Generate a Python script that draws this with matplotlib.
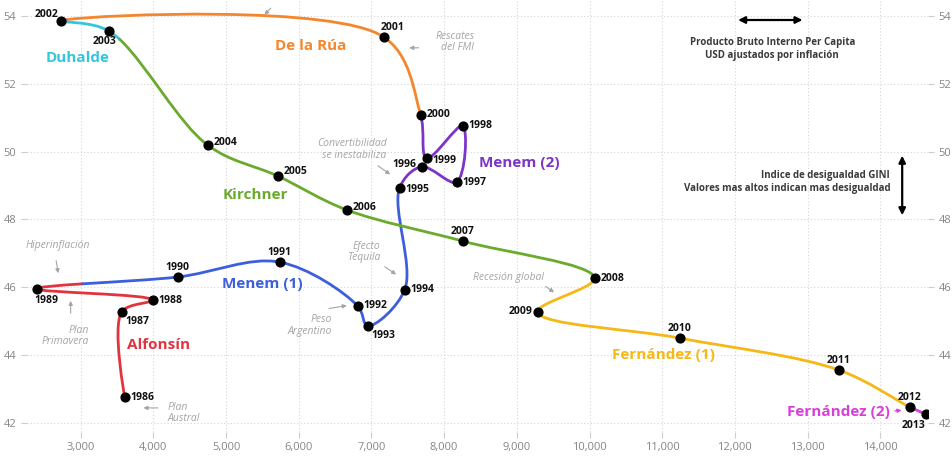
import numpy as np
import matplotlib.pyplot as plt
from matplotlib.path import Path
from matplotlib.patches import PathPatch

plt.rcParams['font.family'] = ['Open Sans', 'DejaVu Sans']

# Data: Argentina, GDP per capita (USD, inflation adjusted) vs GINI index
years = list(range(1986, 2014))
gdp = [3605, 3564, 3990, 2395, 4334, 5737, 6810, 6948, 7457, 7388,
       7690, 8172, 8254, 7760, 7677, 7168, 2725, 3385, 4747, 5710,
       6659, 8254, 10070, 9286, 11239, 13427, 14403, 14623]
gini = [42.76, 45.27, 45.62, 45.95, 46.30, 46.74, 45.45, 44.86, 45.92, 48.93,
        49.55, 49.10, 50.76, 49.81, 51.08, 53.38, 53.85, 53.56, 50.19, 49.28,
        48.28, 47.36, 46.27, 45.27, 44.50, 43.56, 42.47, 42.26]

RED = '#e2343f'
BLUE = '#3d5fdc'
PURPLE = '#7d35c8'
ORANGE = '#f5862c'
CYAN = '#34c6dd'
GREEN = '#6aab2e'
YELLOW = '#f6b816'
MAGENTA = '#d83fd8'

# colour of each segment (year i -> year i+1); tuples split the segment
seg_colors = [RED, RED, RED, (RED, BLUE, 0.45), BLUE, BLUE, BLUE, BLUE, BLUE,
              PURPLE, PURPLE, PURPLE, PURPLE, PURPLE, ORANGE, (ORANGE, MAGENTA, 0.92),
              CYAN, (CYAN, GREEN, 0.12), GREEN, GREEN, GREEN, GREEN,
              YELLOW, YELLOW, YELLOW, YELLOW, MAGENTA]

presidents = ['Duhalde', 'De la Rúa', 'Menem (2)', 'Kirchner', 'Menem (1)',
              'Alfonsín', 'Fernández (1)']
pres_x = [2959, 6162, 9036, 5406, 5502, 4072, 11015]
pres_y = [52.76, 53.12, 49.66, 48.72, 46.09, 44.29, 44.00]
pres_c = [CYAN, ORANGE, PURPLE, GREEN, BLUE, RED, YELLOW]

# year label offsets (points) and alignment
lab = {1986: (4, 0, 'left'), 1987: (3, -7, 'left'), 1988: (4, 0, 'left'),
       1989: (-2, -8, 'left'), 1990: (0, 7, 'center'), 1991: (0, 7, 'center'),
       1992: (4, 0, 'left'), 1993: (3, -7, 'left'), 1994: (4, 0, 'left'),
       1995: (4, -1, 'left'), 1996: (-4, 2, 'right'), 1997: (4, 0, 'left'),
       1998: (4, 0, 'left'), 1999: (4, -2, 'left'), 2000: (4, 0, 'left'),
       2001: (-2, 7, 'left'), 2002: (-2, 5, 'right'), 2003: (-3, -8, 'center'),
       2004: (4, 2, 'left'), 2005: (4, 3, 'left'), 2006: (4, 2, 'left'),
       2007: (0, 7, 'center'), 2008: (4, 0, 'left'), 2009: (-4, 0, 'right'),
       2010: (0, 7, 'center'), 2011: (0, 7, 'center'), 2012: (0, 7, 'center'),
       2013: (0, -8, 'right')}


def split_bezier(pts, t):
    p0, p1, p2, p3 = pts
    a = p0 + (p1 - p0) * t
    b = p1 + (p2 - p1) * t
    c = p2 + (p3 - p2) * t
    d = a + (b - a) * t
    e = b + (c - b) * t
    f = d + (e - d) * t
    return [p0, a, d, f], [f, e, c, p3]


def draw_bez(ax, pts, color):
    path = Path(pts, [Path.MOVETO, Path.CURVE4, Path.CURVE4, Path.CURVE4])
    ax.add_patch(PathPatch(path, fc='none', ec=color, lw=2.0,
                           capstyle='round', zorder=2))


def catmull_controls(p0, p1, p2, p3, alpha=0.5):
    # centripetal Catmull-Rom segment p1->p2 as cubic bezier control points
    d01 = np.hypot(*(p1 - p0))
    d12 = np.hypot(*(p2 - p1))
    d23 = np.hypot(*(p3 - p2))
    l01a, l12a, l23a = d01 ** alpha, d12 ** alpha, d23 ** alpha
    l01_2a, l12_2a, l23_2a = l01a ** 2, l12a ** 2, l23a ** 2
    c1, c2 = p1.copy(), p2.copy()
    if l01a > 1e-9:
        a = 2 * l01_2a + 3 * l01a * l12a + l12_2a
        n = 3 * l01a * (l01a + l12a)
        c1 = (p1 * a - p0 * l12_2a + p2 * l01_2a) / n
    if l23a > 1e-9:
        b = 2 * l23_2a + 3 * l23a * l12a + l12_2a
        m = 3 * l23a * (l23a + l12a)
        c2 = (p2 * b + p1 * l23_2a - p3 * l12_2a) / m
    return c1, c2


fig = plt.figure(figsize=(9.53, 4.63), dpi=100)
ax = fig.add_axes([0.028, 0.067, 0.946, 0.933])
ax.set_xlim(2257, 14660)
ax.set_ylim(41.73, 54.47)

# build the smooth path in screen space, then map back to data
P = ax.transData.transform(np.column_stack([gdp, gini]).astype(float))
inv = ax.transData.inverted()
ext = np.vstack([P[0], P, P[-1]])
for i in range(len(P) - 1):
    p0, p1, p2, p3 = ext[i], ext[i + 1], ext[i + 2], ext[i + 3]
    c1, c2 = catmull_controls(p0, p1, p2, p3)
    pts = list(inv.transform(np.array([p1, c1, c2, p2])))
    col = seg_colors[i]
    if isinstance(col, tuple):
        a, b = split_bezier(pts, col[2])
        draw_bez(ax, a, col[0])
        draw_bez(ax, b, col[1])
    else:
        draw_bez(ax, pts, col)

ax.scatter(gdp, gini, s=40, color='black', zorder=4)
for yr, x, y in zip(years, gdp, gini):
    dx, dy, ha = lab[yr]
    ax.annotate(str(yr), (x, y), xytext=(dx, dy), textcoords='offset points',
                ha=ha, va='center', fontsize=7.5, fontweight='bold', color='#111111',
                zorder=5)

for name, x, y, c in zip(presidents, pres_x, pres_y, pres_c):
    ax.text(x, y, name, color=c, fontsize=11, fontweight='bold', ha='center', va='center')

ax.text(14137, 42.32, 'Fernández (2)', color=MAGENTA, fontsize=11,
        fontweight='bold', ha='right', va='center')
ax.annotate('', xy=(14330, 42.38), xytext=(14160, 42.34),
            arrowprops=dict(arrowstyle='-|>', color=MAGENTA, lw=0.8, mutation_scale=6))

# grey historical notes
notes = [('Hiperinflación', 2684, 47.22, 'center', (2656, 46.86), (2697, 46.33)),
         ('Plan\nPrimavera', 3110, 44.56, 'right', (2862, 45.15), (2862, 45.68)),
         ('Plan\nAustral', 4196, 42.29, 'left', (4100, 42.44), (3825, 42.44)),
         ('Peso\nArgentino', 6451, 44.88, 'right', (6382, 45.36), (6699, 45.47)),
         ('Efecto\nTequila', 7125, 47.04, 'right', (7152, 46.65), (7372, 46.33)),
         ('Convertibilidad\nse inestabiliza', 7207, 50.05, 'right', (7056, 49.63), (7290, 49.28)),
         ('Rescates\ndel FMI', 8417, 53.23, 'right', (7689, 53.06), (7482, 53.06)),
         ('Recesión global', 8885, 46.30, 'center', (9366, 46.07), (9545, 45.80))]
for txt, x, y, ha, tail, tip in notes:
    ax.text(x, y, txt, ha=ha, va='center', fontsize=7.5, style='italic',
            color='#a5a5a5', linespacing=1.1)
    ax.annotate('', xy=tip, xytext=tail,
                arrowprops=dict(arrowstyle='-|>', color='#a5a5a5', lw=0.8, mutation_scale=6))
ax.annotate('', xy=(5502, 53.97), xytext=(5640, 54.29),
            arrowprops=dict(arrowstyle='-|>', color='#a5a5a5', lw=0.8, mutation_scale=6))

# axis guides
ax.annotate('', xy=(12006, 53.88), xytext=(12969, 53.88),
            arrowprops=dict(arrowstyle='<|-|>', color='black', lw=1.6, mutation_scale=10))
ax.text(12515, 53.03, 'Producto Bruto Interno Per Capita\nUSD ajustados por inflación',
        ha='center', va='center', fontsize=7, fontweight='bold', color='#3a3a3a', linespacing=1.3)
ax.annotate('', xy=(14302, 49.96), xytext=(14302, 48.04),
            arrowprops=dict(arrowstyle='<|-|>', color='black', lw=1.6, mutation_scale=10))
ax.text(14137, 49.1, 'Indice de desigualdad GINI\nValores mas altos indican mas desigualdad',
        ha='right', va='center', fontsize=7, fontweight='bold', color='#3a3a3a', linespacing=1.3)

ax.set_xticks(range(3000, 15000, 1000))
ax.set_xticklabels([f'{v:,}' for v in range(3000, 15000, 1000)])
ax.set_yticks(range(42, 55, 2))
ax.tick_params(axis='both', colors='#cccccc', labelcolor='#858585', labelsize=8, length=4)
ax.tick_params(axis='y', right=True, labelright=True)
for s in ax.spines.values():
    s.set_visible(False)
ax.grid(True, linestyle=(0, (1, 2)), color='#d5d5d5', lw=0.8)
ax.set_axisbelow(True)

fig.savefig('out.png', dpi=100)
